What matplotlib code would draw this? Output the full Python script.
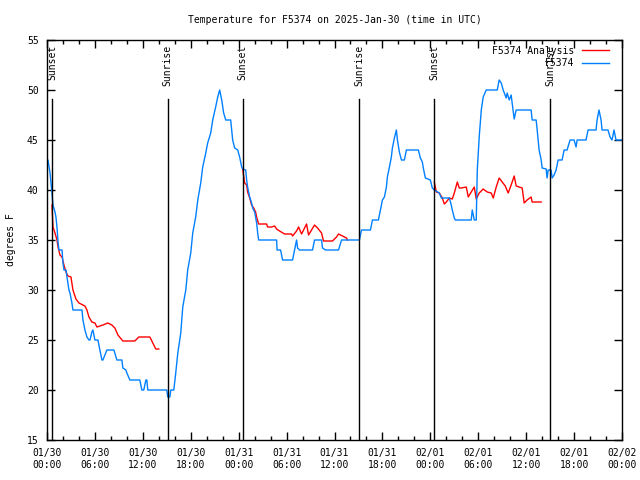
import numpy as np
import matplotlib
matplotlib.use('Agg')
from matplotlib import pyplot as plt
from matplotlib.ticker import MultipleLocator

# hours since 01/30 00:00 UTC
obs_hours = [0.0, 0.12, 0.38, 0.5, 0.62, 0.75, 1.0, 1.12, 1.25, 1.38, 1.5, 1.88, 2.0, 2.12, 2.38, 2.5, 2.62,
             2.75, 2.88, 3.12, 3.25, 4.38, 4.5, 4.75, 5.0, 5.25, 5.38, 5.62, 5.75, 6.0, 6.38, 6.62, 6.88,
             7.0, 7.25, 7.5, 8.38, 8.75, 9.38, 9.5, 9.88, 10.0, 10.38, 11.62, 11.88, 12.12, 12.38, 12.5,
             12.62, 15.0, 15.12, 15.38, 15.5, 15.88, 16.12, 16.38, 16.75, 17.0, 17.38, 17.62, 18.0, 18.25,
             18.62, 18.88, 19.25, 19.5, 19.88, 20.12, 20.5, 20.75, 21.12, 21.38, 21.62, 21.88, 22.12,
             22.38, 23.0, 23.12, 23.25, 23.5, 23.88, 24.12, 24.38, 24.5, 24.88, 25.0, 25.12, 25.38, 25.62,
             25.75, 26.0, 26.25, 26.38, 26.5, 28.75, 28.81, 29.25, 29.5, 30.75, 31.0, 31.25, 31.38, 31.62,
             33.25, 33.5, 34.38, 34.5, 34.88, 36.5, 36.88, 39.12, 39.38, 40.5, 40.75, 41.5, 41.75, 42.0,
             42.25, 42.5, 42.62, 42.88, 43.12, 43.25, 43.5, 43.75, 43.88, 44.12, 44.38, 44.75, 45.0, 46.5,
             46.75, 47.0, 47.12, 47.38, 48.0, 48.25, 48.5, 49.12, 49.38, 50.38, 50.62, 50.75, 51.0, 51.12,
             53.12, 53.25, 53.5, 53.75, 53.88, 54.12, 54.38, 54.62, 55.0, 56.38, 56.62, 56.88, 57.12, 57.5,
             57.62, 57.88, 58.12, 58.25, 58.5, 58.75, 60.62, 60.75, 61.25, 61.38, 61.62, 61.88, 62.0, 62.5,
             62.62, 62.75, 63.12, 63.25, 63.5, 63.75, 64.0, 64.5, 64.75, 65.12, 65.5, 66.0, 66.25, 66.38,
             67.5, 67.75, 68.75, 68.88, 69.12, 69.38, 69.5, 70.25, 70.5, 70.75, 71.0, 71.25, 72.0]
obs_temps = [43, 43, 41.7, 40.7, 39.7, 38.5, 37.8, 37.3, 36.3, 34.8, 34, 34, 32.7, 32, 32, 31.3, 30.7,
             30, 29.7, 28.7, 28, 28, 27, 26, 25.3, 25, 25, 25.8, 26, 25, 25, 24, 23,
             23, 23.5, 24, 24, 23, 23, 22.2, 22, 21.7, 21, 21, 20, 20, 21, 21,
             20, 20, 19.3, 19.3, 20, 20, 21.7, 23.7, 25.7, 28.3, 30, 32, 33.7, 35.7,
             37.3, 39, 40.7, 42.3, 43.7, 44.7, 45.7, 47, 48.3, 49.3, 50, 49, 47.7,
             47, 47, 46, 45, 44.2, 44, 43.3, 42.3, 42.1, 42, 41, 40.3, 39.3, 38.7,
             38.2, 37.8, 36.7, 35.7, 35, 35, 34, 34, 33, 33, 34, 35, 34.2, 34,
             34, 35, 35, 34.2, 34, 34, 35, 35, 36, 36, 37, 37, 38, 39,
             39.3, 40.3, 41.3, 42.3, 43.3, 44.2, 45.2, 46, 45, 43.8, 43, 43, 44, 44,
             43.2, 42.8, 42.2, 41.2, 41, 40.2, 40, 39.7, 39.2, 39.2, 38.5, 38, 37.2, 37,
             37, 38, 37, 37, 42, 45.3, 48, 49.3, 50, 50, 51, 50.7, 50, 49.2,
             49.7, 49, 49.5, 48.7, 47.1, 48, 48, 47, 47, 46, 44, 43, 42.2, 42.1,
             41.2, 42, 42, 41.2, 41.5, 42, 43, 43, 44, 44, 45, 45, 44.3, 45,
             45, 46, 46, 47, 48, 47, 46, 46, 45.3, 45, 46, 45, 45]

# analysis series, nan marks the gaps between runs
ana_hours = [0.62, 0.75, 1.0, 1.25, 1.38, 1.62, 1.88, 2.12, 2.38, 2.62, 3.0, 3.25, 3.62, 4.0, 4.5, 4.75,
             5.0, 5.25, 5.62, 6.0, 6.25, 6.62, 7.0, 7.62, 8.12, 8.5, 8.88, 9.5, 11.0, 11.5, 12.88, 13.25,
             13.62, 14.0, 19.0,
             24.5, 24.75, 25.0, 25.12, 25.38, 25.62, 25.88, 26.12, 26.25, 26.5, 27.5, 27.62, 28.12, 28.5,
             28.75, 29.12, 29.75, 30.62, 30.75, 31.25, 31.5, 31.88, 32.5, 32.75, 33.5, 33.88, 34.38, 34.62,
             35.75, 36.25, 36.5, 37.0, 37.5, 37.62, 43.0,
             48.5, 48.62, 48.75, 49.12, 49.5, 49.75, 50.0, 50.38, 50.75, 51.0, 51.38, 51.62, 51.88, 52.5,
             52.75, 53.12, 53.5, 53.75, 54.12, 54.62, 55.12, 55.62, 55.88, 56.25, 56.62, 57.0, 57.38,
             57.75, 58.12, 58.5, 58.75, 59.12, 59.5, 59.75, 60.12, 60.62, 60.75, 61.88]
ana_temps = [38.5, 36.3, 35.7, 35, 34.3, 33.5, 33.3, 32.5, 31.8, 31.4, 31.3, 30, 29.1, 28.7, 28.5, 28.4,
             28, 27.3, 26.8, 26.7, 26.3, 26.4, 26.5, 26.7, 26.5, 26.2, 25.5, 24.9, 24.9, 25.3, 25.3, 24.7,
             24.1, 24.1, np.nan,
             42.1, 40.7, 40.5, 39.8, 39.2, 38.5, 38.2, 37.8, 37.3, 36.6, 36.6, 36.3, 36.3, 36.4,
             36.1, 35.9, 35.6, 35.6, 35.4, 35.9, 36.3, 35.6, 36.6, 35.5, 36.5, 36.2, 35.7, 34.9,
             34.9, 35.3, 35.6, 35.4, 35.2, 35.0, np.nan,
             40.8, 40.3, 39.8, 39.7, 39.2, 38.6, 38.8, 39.2, 39.1, 39.7, 40.8, 40.2, 40.2, 40.3,
             39.3, 39.8, 40.3, 39.1, 39.7, 40.1, 39.8, 39.7, 39.2, 40.3, 41.2, 40.8, 40.4,
             39.7, 40.5, 41.4, 40.4, 40.3, 40.2, 38.7, 39, 39.3, 38.8, 38.8]

sun_hours = [0.62, 15.12, 24.5, 39.12, 48.5, 63.0]
sun_labels = ['Sunset', 'Sunrise', 'Sunset', 'Sunrise', 'Sunset', 'Sunrise']

tick_labels = ['01/30\n00:00', '01/30\n06:00', '01/30\n12:00', '01/30\n18:00',
               '01/31\n00:00', '01/31\n06:00', '01/31\n12:00', '01/31\n18:00',
               '02/01\n00:00', '02/01\n06:00', '02/01\n12:00', '02/01\n18:00', '02/02\n00:00']

plt.rcParams['font.family'] = 'DejaVu Sans Mono'
plt.rcParams['font.size'] = 7

fig = plt.figure(figsize=(6.4, 4.8), dpi=100)
ax = fig.add_axes([47 / 640, 40 / 480, 575 / 640, 400 / 480])

ax.plot(ana_hours, ana_temps, color='#ff0000', linewidth=1, label='F5374 Analysis')
ax.plot(obs_hours, obs_temps, color='#0080ff', linewidth=1, label='F5374')

for h, name in zip(sun_hours, sun_labels):
    ax.plot([h, h], [15, 49.1], color='black', linewidth=1)
    ax.text(h, 54.5, name, rotation=90, ha='center', va='top', fontsize=7)

ax.set_xlim(0, 72)
ax.set_ylim(15, 55)
ax.set_xticks(np.arange(0, 73, 6))
ax.set_xticklabels(tick_labels)
ax.xaxis.set_minor_locator(MultipleLocator(2))
ax.set_yticks(np.arange(15, 56, 5))
ax.tick_params(which='both', direction='in', top=True, right=True)
ax.tick_params(which='major', length=6, width=1, labelsize=7, pad=6)
ax.tick_params(which='minor', length=3, width=1)
for s in ax.spines.values():
    s.set_linewidth(1)

ax.set_ylabel('degrees F', fontsize=7, labelpad=8)
ax.set_title('Temperature for F5374 on 2025-Jan-30 (time in UTC)', fontsize=7, pad=12)

ax.legend(loc='upper right', bbox_to_anchor=(0.986, 0.998), frameon=False, markerfirst=False,
          fontsize=7, handlelength=2.8, handletextpad=0.8, labelspacing=0.25,
          borderaxespad=0.3, borderpad=0.2)

plt.savefig('out.png', dpi=100)
